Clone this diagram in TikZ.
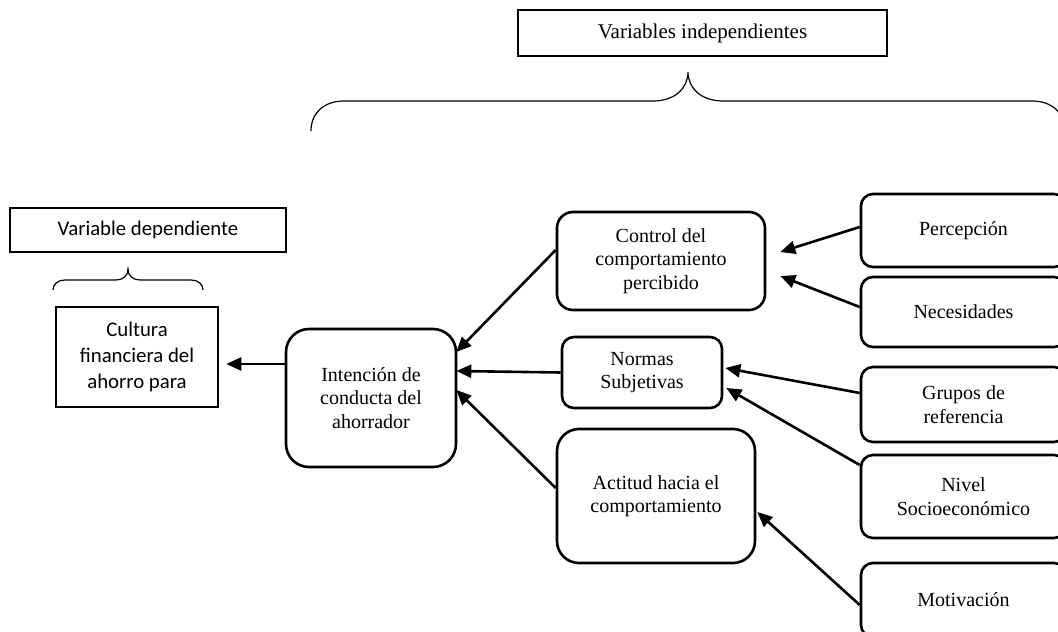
\documentclass[tikz,border=0pt]{standalone}
\usepackage{fontspec}
\setmainfont{Liberation Serif}
\newfontfamily\calibri{Carlito}
\usetikzlibrary{arrows.meta,calc}

\tikzset{
    etiqueta/.style={draw, line width=1.2pt, minimum height=46pt, inner sep=0pt,
        font=\fontsize{21}{24}\selectfont},
    caja/.style={draw, line width=2.6pt, align=center, inner sep=0pt,
        font=\fontsize{20}{23.5}\selectfont},
    sans/.style={font=\calibri\fontsize{20.8}{26}\selectfont},
    flecha/.style={line width=2.6pt, -{Triangle[length=15pt,width=13pt]}},
    llave/.style={line width=1.2pt}
}

\begin{document}
\begin{tikzpicture}[x=1pt, y=-1pt]
                        \useasboundingbox (0,0) rectangle (1058,632);

                        \node[etiqueta, minimum width=369pt] (vind) at (702.5,33) {Variables independientes};
                        \node[etiqueta, sans, minimum width=276pt, minimum height=44pt] (vdep) at (148,230) {Variable dependiente};

                        \node[caja, sans, minimum width=162pt, minimum height=100pt] (cult) at (137,357) {Cultura\\financiera del\\ahorro para};
                        \node[caja, rounded corners=23pt, minimum width=170pt, minimum height=138pt] (inten) at (371,398) {Intención de\\conducta del\\ahorrador};

                        \node[caja, rounded corners=16pt, minimum width=208pt, minimum height=98pt] (ctrl) at (661,261) {Control del\\comportamiento\\percibido};
                        \node[caja, rounded corners=12pt, minimum width=160pt, minimum height=71pt] (norm) at (642,372.5) {Normas\\Subjetivas};
                        \node[caja, rounded corners=22pt, minimum width=198pt, minimum height=134pt] (acti) at (656,496) {Actitud hacia el\\comportamiento};

                        \node[caja, rounded corners=12pt, minimum width=205pt, minimum height=73pt] (perc) at (963.5,230.5) {Percepción};
                        \node[caja, rounded corners=12pt, minimum width=205pt, minimum height=70pt] (nece) at (963.5,312) {Necesidades};
                        \node[caja, rounded corners=12pt, minimum width=205pt, minimum height=75pt] (grup) at (963.5,404.5) {Grupos de\\referencia};
                        \node[caja, rounded corners=12pt, minimum width=205pt, minimum height=83pt] (nivel) at (963.5,496.5) {Nivel\\Socioeconómico};
                        \node[caja, rounded corners=12pt, minimum width=205pt, minimum height=74pt] (moti) at (963.5,600) {Motivación};

                        \draw[llave] (311,131) .. controls (311,112) and (325,101) .. (344,101) -- (653,101)
                            .. controls (675,101) and (688,88) .. (688,72)
                            .. controls (688,88) and (701,101) .. (723,101) -- (1032,101)
                            .. controls (1051,101) and (1065,112) .. (1065,131);
                        \draw[llave] (53,290) .. controls (53,284) and (58,280) .. (65,280) -- (116,280)
                            .. controls (123,280) and (128,276) .. (128,269)
                            .. controls (128,276) and (133,280) .. (140,280) -- (191,280)
                            .. controls (198,280) and (203,284) .. (203,290);

                        \draw[flecha] ($(inten.west)+(0,-34)$) -- ($(cult.east)+(7,7)$);
                        \draw[flecha] ($(ctrl.west)+(0,-11)$) -- ($(inten.east)+(-1,-46)$);
                        \draw[flecha] (norm.west) -- ($(inten.east)+(-1,-27)$);
                        \draw[flecha] ($(acti.west)+(0,-8)$) -- ($(inten.east)+(-1,-8)$);

                        \draw[flecha] ($(perc.west)+(0,-3.5)$) -- ($(ctrl.east)+(14,-9)$);
                        \draw[flecha] ($(nece.west)+(0,-5)$) -- ($(ctrl.east)+(14,15)$);
                        \draw[flecha] ($(grup.west)+(0,-11.5)$) -- ($(norm.east)+(2,-4.5)$);
                        \draw[flecha] ($(nivel.west)+(0,-31.5)$) -- ($(norm.east)+(3,15.5)$);
                        \draw[flecha] ($(moti.west)+(0,5)$) -- ($(acti.east)+(1,16)$);
                    \end{tikzpicture}
\end{document}
